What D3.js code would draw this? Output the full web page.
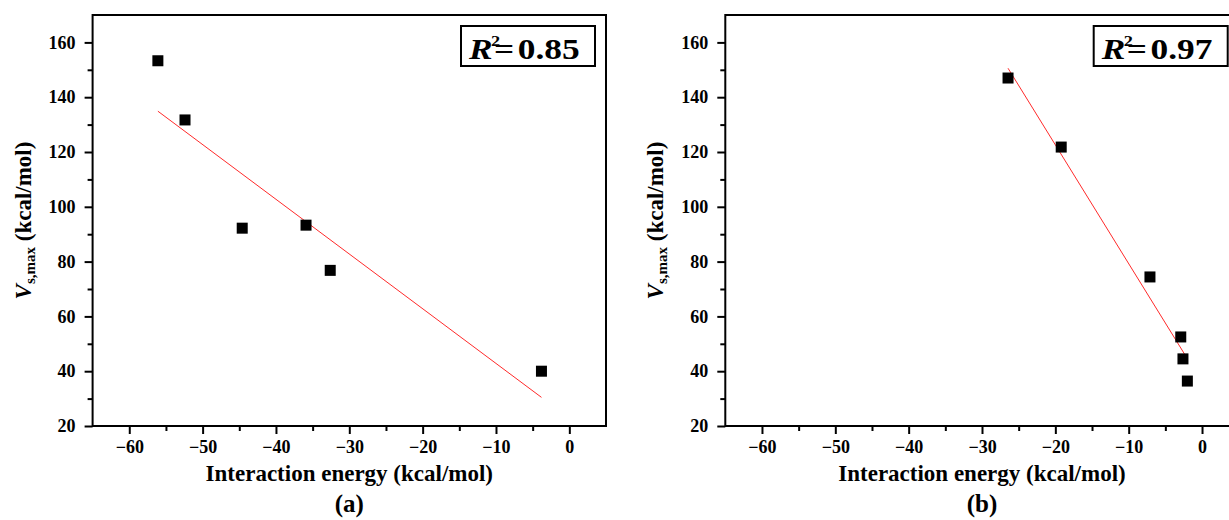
<!DOCTYPE html>
<html>
<head>
<meta charset="utf-8">
<script src="https://cdn.jsdelivr.net/npm/d3@7"></script>
<style>
  body { margin: 0; background: #fff; }
  text { font-family: "Liberation Serif", "Times New Roman", serif; font-weight: bold; fill: #000; }
</style>
</head>
<body>
<svg width="1229" height="520"></svg>
<script>
// values
var xTicks = [-60, -50, -40, -30, -20, -10, 0];
var xMinor = [-55, -45, -35, -25, -15, -5];
var yTicks = [20, 40, 60, 80, 100, 120, 140, 160];
var yMinor = [30, 50, 70, 90, 110, 130, 150];

var energyA = [-56.1, -52.4, -44.6, -35.9, -32.6, -3.8];
var vsmaxA  = [153.3, 131.7, 92.2, 93.3, 76.8, 40.0];
var energyB = [-26.45, -19.2, -7.1, -2.9, -2.6, -2.0];
var vsmaxB  = [147.0, 121.8, 74.4, 52.5, 44.5, 36.4];

var r2Labels = ["0.85", "0.97"];
var panelLabels = ["(a)", "(b)"];

var svg = d3.select("svg");

var panels = [
  {left: 92.6, ex: energyA, vs: vsmaxA, r2: r2Labels[0], tag: panelLabels[0]},
  {left: 725.3, ex: energyB, vs: vsmaxB, r2: r2Labels[1], tag: panelLabels[1]}
];
var plotTop = 15, plotBottom = 426, plotW = 513.4;

panels.forEach(function(p) {
  var x = d3.scaleLinear().domain([-65, 5]).range([p.left, p.left + plotW]);
  var y = d3.scaleLinear().domain([20, 170]).range([plotBottom, plotTop]);
  var g = svg.append("g");

  // least squares fit line
  var mx = d3.mean(p.ex), my = d3.mean(p.vs);
  var sxy = d3.sum(p.ex, function(v, i) { return (v - mx) * (p.vs[i] - my); });
  var sxx = d3.sum(p.ex, function(v) { return (v - mx) * (v - mx); });
  var slope = sxy / sxx, icpt = my - slope * mx;
  var ext = d3.extent(p.ex);

  // minor ticks
  g.append("g").attr("transform", "translate(0," + plotBottom + ")")
    .call(d3.axisBottom(x).tickValues(xMinor).tickSize(5).tickFormat(""))
    .call(function(a) { a.select(".domain").remove(); a.selectAll("line").attr("stroke-width", 2); });
  g.append("g").attr("transform", "translate(" + p.left + ",0)")
    .call(d3.axisLeft(y).tickValues(yMinor).tickSize(5).tickFormat(""))
    .call(function(a) { a.select(".domain").remove(); a.selectAll("line").attr("stroke-width", 2); });

  // major ticks
  g.append("g").attr("transform", "translate(0," + plotBottom + ")")
    .call(d3.axisBottom(x).tickValues(xTicks).tickSize(8).tickPadding(6))
    .call(function(a) {
      a.select(".domain").remove();
      a.selectAll("line").attr("stroke-width", 2);
      a.selectAll("text").attr("font-size", 18);
    });
  g.append("g").attr("transform", "translate(" + p.left + ",0)")
    .call(d3.axisLeft(y).tickValues(yTicks).tickSize(8).tickPadding(9))
    .call(function(a) {
      a.select(".domain").remove();
      a.selectAll("line").attr("stroke-width", 2);
      a.selectAll("text").attr("font-size", 18);
    });

  // frame
  g.append("rect")
    .attr("x", x(-65)).attr("y", y(170))
    .attr("width", x(5) - x(-65)).attr("height", y(20) - y(170))
    .attr("fill", "none").attr("stroke", "#000").attr("stroke-width", 2);

  // fit line
  g.append("line")
    .attr("x1", x(ext[0])).attr("y1", y(icpt + slope * ext[0]))
    .attr("x2", x(ext[1])).attr("y2", y(icpt + slope * ext[1]))
    .attr("stroke", "#ff2a2a").attr("stroke-width", 1);

  // points
  g.selectAll("rect.pt").data(p.ex).enter().append("rect")
    .attr("class", "pt")
    .attr("x", function(d) { return x(d) - 5.5; })
    .attr("y", function(d, i) { return y(p.vs[i]) - 5.5; })
    .attr("width", 11).attr("height", 11)
    .attr("fill", "#000");

  // R^2 box
  var bx = x(5) - 11 - 134, by = plotTop + 11;
  g.append("rect").attr("x", bx).attr("y", by).attr("width", 134).attr("height", 40)
    .attr("fill", "#fff").attr("stroke", "#000").attr("stroke-width", 2);
  var rg = g.append("g").attr("transform", "translate(" + (bx + 8) + "," + (by + 32.5) + ") scale(1.22,1)");
  rg.append("text").attr("font-size", 29).attr("font-style", "italic").text("R");
  rg.append("text").attr("x", 18).attr("y", -13).attr("font-size", 15).text("2");
  rg.append("text").attr("x", 20.5).attr("font-size", 29).text("=");
  rg.append("text").attr("x", 40).attr("font-size", 29).text(p.r2);

  // axis titles
  g.append("text").attr("x", x(-30)).attr("y", 481).attr("text-anchor", "middle")
    .attr("font-size", 23).text("Interaction energy (kcal/mol)");
  g.append("text").attr("x", x(-30)).attr("y", 512).attr("text-anchor", "middle")
    .attr("font-size", 25).text(p.tag);

  var yt = g.append("text")
    .attr("transform", "translate(" + (p.left - 62) + "," + ((plotTop + plotBottom) / 2) + ") rotate(-90)")
    .attr("text-anchor", "middle").attr("font-size", 23);
  yt.append("tspan").attr("font-style", "italic").text("V");
  yt.append("tspan").attr("font-size", 15).attr("dy", 4).text("s,max");
  yt.append("tspan").attr("dy", -4).text(" (kcal/mol)");
});
</script>
</body>
</html>
